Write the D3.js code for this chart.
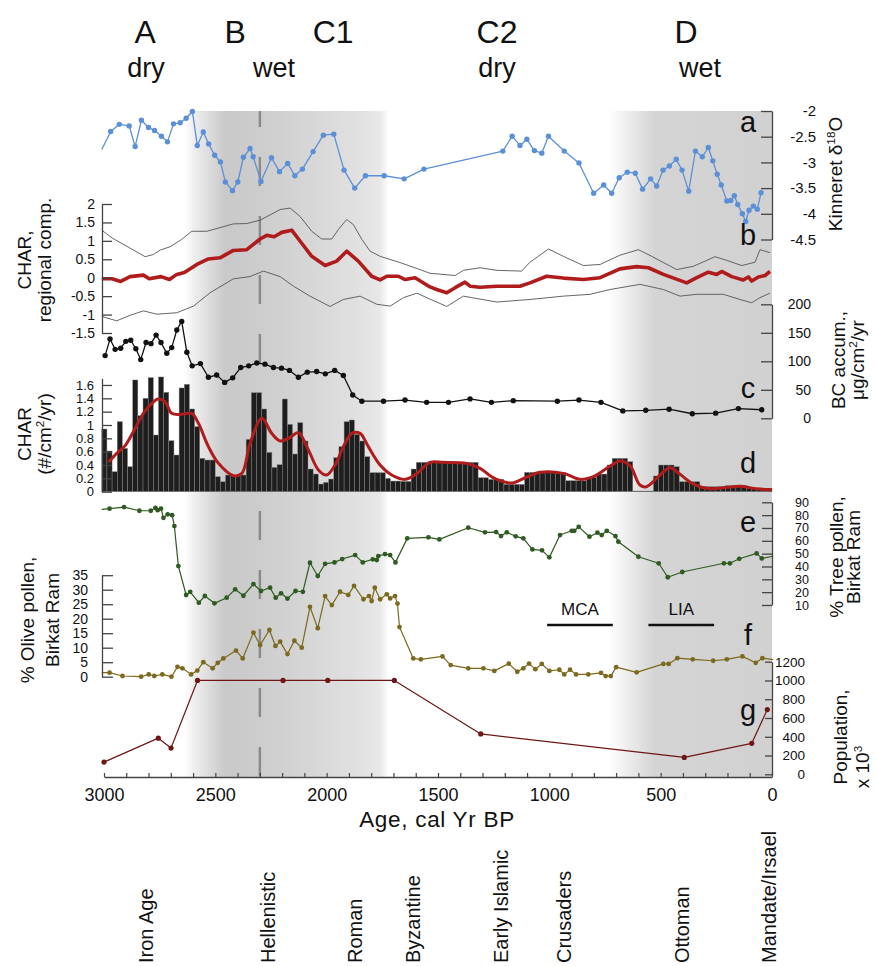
<!DOCTYPE html>
<html><head><meta charset="utf-8">
<script src="https://cdn.jsdelivr.net/npm/d3@7"></script>
<style>
body{margin:0;background:#fff}
svg text{font-family:"Liberation Sans",Arial,Helvetica,sans-serif;fill:#111}
</style></head>
<body><svg id="c" width="876" height="966"></svg>
<script>
// ---------------- DATA ----------------
// (a) Kinneret d18O
const kinYears = [3010,2970,2931,2887,2860,2832,2800,2773,2742,2715,2688,2658,2631,2603,2581,2554,2530,2503,2477,2455,2423,2399,2374,2344,2330,2295,2248,2212,2175,2143,2109,2061,2015,1968,1922,1874,1826,1742,1652,1563,1209,1167,1132,1101,1067,1034,1004,933,867,801,756,720,686,650,614,581,545,518,489,461,430,404,374,344,313,286,266,246,228,203,185,169,154,133,118,103,84,66,49];
const kinValues = [-2.75,-2.40,-2.26,-2.29,-2.69,-2.18,-2.32,-2.38,-2.49,-2.60,-2.25,-2.23,-2.14,-2.01,-2.67,-2.41,-2.64,-2.86,-2.99,-3.38,-3.55,-3.38,-2.90,-2.73,-2.89,-3.37,-2.91,-3.18,-3.02,-3.26,-3.13,-2.79,-2.47,-2.45,-3.15,-3.50,-3.26,-3.26,-3.32,-3.13,-2.78,-2.49,-2.67,-2.55,-2.77,-2.82,-2.49,-2.78,-3.01,-3.60,-3.44,-3.60,-3.30,-3.19,-3.21,-3.52,-3.32,-3.46,-3.15,-3.07,-2.94,-3.15,-3.56,-2.78,-2.89,-2.71,-2.97,-3.23,-3.44,-3.75,-3.74,-3.65,-3.82,-4.00,-4.15,-3.93,-3.85,-3.91,-3.59];
const kinTicks = [-2,-2.5,-3,-3.5,-4,-4.5];

// (b) CHAR regional composite, with upper / lower bounds
const regYears = [3010,2964,2925,2883,2823,2797,2744,2706,2673,2639,2583,2531,2479,2419,2359,2299,2269,2236,2202,2157,2119,2067,2007,1955,1910,1858,1798,1760,1730,1678,1648,1603,1536,1506,1461,1423,1379,1356,1311,1236,1132,1087,1012,937,847,772,683,608,555,488,383,338,286,248,226,181,129,106,91,61,31,9];
const regValues = [-0.03,-0.03,-0.10,0.03,0.07,-0.03,0.03,-0.05,0.09,0.14,0.36,0.51,0.54,0.74,0.76,1.05,1.15,1.11,1.23,1.29,0.99,0.58,0.33,0.45,0.72,0.45,0.04,-0.06,0.04,0.04,-0.05,0.0,-0.25,-0.32,-0.41,-0.27,-0.12,-0.23,-0.26,-0.23,-0.23,-0.14,0.04,-0.01,-0.05,0.0,0.24,0.30,0.27,0.09,-0.14,0.0,0.15,0.09,0.17,0.03,-0.06,0.02,-0.09,0.02,0.06,0.17];
const regUpYears = [3010,2964,2897,2815,2778,2748,2703,2651,2606,2538,2419,2359,2299,2209,2164,2119,2067,2022,1977,1947,1910,1880,1842,1805,1760,1670,1581,1536,1423,1386,1311,1236,1124,1087,1004,937,847,772,683,600,540,428,353,256,203,136,76,54,9];
const regUpValues = [1.29,1.08,0.85,0.57,0.63,0.75,0.84,1.04,1.26,1.26,1.46,1.47,1.56,1.85,1.89,1.66,1.26,1.05,1.05,1.31,1.58,1.44,1.04,0.72,0.58,0.41,0.22,0.12,0.06,0.20,0.27,0.20,0.18,0.42,0.78,0.58,0.33,0.36,0.61,0.76,0.58,0.22,0.31,0.57,0.47,0.33,0.42,0.76,0.68];
const regLoYears = [3010,2943,2883,2823,2763,2673,2598,2524,2419,2344,2284,2209,2149,2075,1985,1925,1850,1775,1715,1655,1595,1536,1461,1386,1236,1087,937,817,727,593,488,413,338,219,144,91,54,9];
const regLoValues = [-1.05,-1.17,-1.02,-0.90,-0.99,-0.95,-0.77,-0.41,-0.03,0.03,0.18,0.03,-0.23,-0.50,-0.78,-0.59,-0.50,-0.72,-0.77,-0.54,-0.42,-0.58,-0.78,-0.50,-0.66,-0.59,-0.50,-0.45,-0.32,-0.18,-0.32,-0.50,-0.45,-0.45,-0.59,-0.68,-0.54,-0.42];
const regTicks = [2,1.5,1,0.5,0,-0.5,-1,-1.5];

// (c) BC accumulation
const bcYears = [2995,2973,2950,2925,2902,2880,2857,2835,2811,2789,2766,2744,2718,2696,2673,2651,2628,2604,2567,2531,2494,2458,2422,2386,2350,2314,2277,2239,2203,2167,2127,2087,2045,2006,1964,1925,1883,1842,1745,1648,1551,1453,1356,1260,1162,964,867,768,670,567,462,358,253,151,46];
const bcValues = [110,139,121,123,135,137,122,103,133,131,146,133,114,124,155,170,116,92,96,72,76,63,71,89,92,97,95,89,88,84,72,81,82,78,84,75,41,30,30,32,28,28,34,28,31,30,32,28,13,14,16,8,9,17,15];
const bcTicks = [200,150,100,50,0];

// (d) CHAR bars (oldest bin first) and smoothed curve
const charBinOldest = 3010;
const charBinCount = 130;
const charBars = [0.94,0.61,0.30,1.05,0.65,0.375,1.675,1.14,1.40,1.71,0.85,1.72,1.49,0.765,0.55,1.555,1.61,1.24,0.975,0.50,
 0.475,0.475,0.225,0.15,0.25,0.25,0.245,0.25,0.785,1.485,1.485,1.24,0.59,0.365,0.405,1.39,1.01,0.565,1.035,0.76,
 0.34,0.265,0.115,0.14,0.19,0.51,0.675,1.05,1.075,0.86,0.76,0.525,0.285,0.285,0.285,0.2,0.16,0.16,0.155,0.155,
 0.34,0.44,0.44,0.44,0.44,0.44,0.44,0.44,0.44,0.44,0.44,0.44,0.44,0.21,0.21,0.185,0.185,0.185,0.11,0.11,
 0.11,0.11,0.29,0.29,0.29,0.29,0.29,0.29,0.29,0.29,0.165,0.165,0.165,0.165,0.215,0.215,0.265,0.265,0.40,0.50,
 0.50,0.50,0.45,0.01,0.01,0.01,0.01,0.235,0.40,0.40,0.40,0.375,0.15,0.15,0.15,0.15,0.075,0.075,0.075,0.075,
 0.075,0.09,0.09,0.09,0.09,0.05,0.05,0.05,0.05,0.05];
const charSmYears = [2980,2943,2905,2868,2823,2785,2756,2726,2696,2651,2606,2576,2531,2486,2419,2381,2344,2291,2247,2209,2164,2127,2082,2037,2000,1962,1925,1887,1850,1813,1760,1708,1648,1595,1536,1476,1371,1311,1266,1236,1169,1101,1042,937,862,802,720,683,638,593,563,503,458,413,353,278,203,144,69,1];
const charSmValues = [0.44,0.575,0.69,0.90,1.175,1.325,1.39,1.35,1.175,1.16,1.175,1.025,0.675,0.425,0.24,0.275,0.725,1.10,0.875,0.76,0.815,0.885,0.625,0.325,0.25,0.40,0.675,0.875,0.875,0.675,0.40,0.25,0.185,0.27,0.44,0.44,0.425,0.35,0.24,0.185,0.13,0.22,0.29,0.275,0.185,0.225,0.40,0.46,0.39,0.10,0.075,0.25,0.36,0.26,0.115,0.045,0.065,0.08,0.045,0.03];
const charTicks = [0,0.2,0.4,0.6,0.8,1,1.2,1.4,1.6];

// (e) Tree pollen
const treeYears = [3010,2975,2910,2841,2790,2769,2759,2744,2733,2714,2694,2684,2666,2631,2613,2574,2547,2504,2449,2411,2374,2329,2295,2254,2229,2205,2176,2140,2107,2075,2040,2007,1965,1930,1872,1838,1793,1775,1768,1738,1715,1691,1638,1543,1494,1364,1289,1239,1217,1191,1151,1117,1076,1033,1000,952,899,888,868,820,784,765,742,703,690,600,509,468,403,216,189,147,69,46,-5];
const treeValues = [84.5,85,86.3,83.4,83.4,85.7,83.9,85,77.9,80.6,80,71.5,40.3,17.8,20.3,11.8,17,11.3,15.7,22.2,17.2,26.3,20.9,23.5,15.7,19.1,15,20.9,20.3,42.9,32.6,42.1,43.2,45.8,48.9,43.2,45.6,45,48.1,49.7,48.9,43.2,61.9,62.7,61.1,70.2,66.6,66.8,63.7,66.6,63.5,61.9,53.3,52.6,47.1,64.5,67.8,67.8,70.9,63.2,66.3,64.5,67.8,63.7,59.3,47.6,42.5,31.6,35.7,42.5,42.5,46,50.2,46.3,48];
const treeTicks = [90,80,70,60,50,40,30,20,10];

// (f) Olive pollen
const oliveYears = [3010,2975,2917,2833,2799,2774,2738,2697,2670,2648,2609,2581,2554,2512,2489,2464,2407,2377,2329,2299,2257,2230,2209,2176,2145,2112,2075,2040,2007,1977,1940,1903,1877,1835,1810,1798,1784,1760,1730,1715,1693,1682,1673,1611,1577,1480,1443,1364,1296,1247,1182,1144,1117,1091,1063,1034,1000,955,933,907,880,825,768,747,724,700,608,488,464,425,356,264,203,133,73,43,-5];
const oliveValues = [1.4,1.4,0.24,0,0.8,0.24,0.8,0,3.4,2.9,0.8,2.1,5.0,2.9,4.8,6.3,9.0,6.3,15.2,10.9,16.1,10.6,12.1,7.8,12.4,10.0,24.1,16.7,27.8,24.7,29.3,28.2,31.3,26.7,27.8,26.1,30.7,26.7,28.4,27.0,27.8,25.2,17.1,6.3,6.0,7.0,4.0,2.9,2.9,2.0,4.5,1.7,2.9,4.5,2.6,4.4,2.0,2.4,0.8,2.4,0.8,0.8,1.3,0.2,0.2,3.3,1.5,4.4,4.4,6.4,6.0,5.5,6.0,7.0,4.8,6.4,5.9];
const oliveTicks = [35,30,25,20,15,10,5,0];

// (g) Population (x 1000)
const popYears = [3000,2756,2699,2580,2196,1995,1696,1308,394,91,21];
const popValues = [130,385,280,1000,1000,1000,1000,430,180,330,690];
const popTicks = [1200,1000,800,600,400,200,0];

// Age axis
const ageTicks = [3000,2900,2800,2700,2600,2500,2400,2300,2200,2100,2000,1900,1800,1700,1600,1500,1400,1300,1200,1100,1000,900,800,700,600,500,400,300,200,100,0];
const ageLabels = [3000,2500,2000,1500,1000,500,0];

// Annotations
const climateLetters = ["A","B","C1","C2","D"];
const climateLetterYears = [2815,2411,1971,1235,386];
const climateWords = ["dry","wet","dry","wet"];
const climateWordYears = [2811,2236,1235,323];
const wetBandStart = [2640,732];
const wetBandEnd = [1720,0];
const markerYear = 2300;
const anomalyNames = ["MCA","LIA"];
const anomalyStart = [1010,555];
const anomalyEnd = [715,260];
const historyNames = ["Iron Age","Hellenistic","Roman","Byzantine","Early Islamic","Crusaders","Ottoman","Mandate/Irsael"];
const historyYears = [2811,2262,1872,1612,1217,934,404,13];

// ---------------- DRAW ----------------
const svg = d3.select("#c");
const x = d3.scaleLinear().domain([3000,0]).range([104,772]);
const XL = 102, XR = 772, TOP = 111, BOT = 777;

const defs = svg.append("defs");
const g1 = defs.append("linearGradient").attr("id","band1");
[[0,"#ffffff"],[0.05,"#eeeeee"],[0.2,"#c9c9c9"],[0.38,"#cdcdcd"],[0.6,"#d6d6d6"],[0.85,"#e1e1e1"],[0.955,"#e8e8e8"],[1,"#ffffff"]]
  .forEach(s=>g1.append("stop").attr("offset",s[0]).attr("stop-color",s[1]));
const g2 = defs.append("linearGradient").attr("id","band2");
[[0,"#ffffff"],[0.28,"#d4d4d4"],[1,"#d1d1d1"]]
  .forEach(s=>g2.append("stop").attr("offset",s[0]).attr("stop-color",s[1]));

svg.selectAll("rect.band").data(d3.range(wetBandStart.length)).enter().append("rect")
  .attr("x",i=>x(wetBandStart[i])).attr("width",i=>x(wetBandEnd[i])-x(wetBandStart[i]))
  .attr("y",TOP).attr("height",BOT-TOP)
  .attr("fill",(d,i)=>i===0?"url(#band1)":"url(#band2)");

// dashed marker
svg.append("line").attr("x1",x(markerYear)).attr("x2",x(markerYear))
  .attr("y1",98).attr("y2",BOT).attr("stroke","#8a8a8a").attr("stroke-width",2.4)
  .attr("stroke-dasharray","29,30");
svg.append("rect").attr("x",x(markerYear)-3).attr("y",90).attr("width",6).attr("height",TOP-90).attr("fill","#fff");

function zip(a,b){return a.map((d,i)=>[d,b[i]]);}
function series(years, vals, y, color, w, r, curve){
  const data = zip(years, vals);
  const line = d3.line().x(d=>x(d[0])).y(d=>y(d[1]));
  if(curve) line.curve(curve);
  svg.append("path").datum(data).attr("d",line).attr("fill","none")
    .attr("stroke",color).attr("stroke-width",w).attr("stroke-linejoin","round");
  if(r>0){
    svg.append("g").selectAll("circle").data(data.filter(d=>d[0]>0&&d[0]<=3000)).enter()
      .append("circle").attr("cx",d=>x(d[0])).attr("cy",d=>y(d[1])).attr("r",r).attr("fill",color);
  }
}
function fmt(d){return String(d);}
function rightAxis(y, ticks, labelX, fs, tickLen){
  const g = svg.append("g").attr("transform",`translate(${XR},0)`)
    .call(d3.axisLeft(y).tickValues(ticks).tickFormat(fmt).tickSize(tickLen).tickSizeOuter(0));
  g.select(".domain").attr("stroke","#444").attr("stroke-width",1.3);
  g.selectAll(".tick line").attr("stroke","#444").attr("stroke-width",1.3);
  g.selectAll(".tick text").attr("x",labelX-XR).attr("text-anchor","end")
    .attr("font-size",fs).attr("fill","#111").style("font-family",'"Liberation Sans",Arial,sans-serif');
}
function leftAxis(y, ticks, labelX, fs, tickLen){
  const g = svg.append("g").attr("transform",`translate(${XL},0)`)
    .call(d3.axisRight(y).tickValues(ticks).tickFormat(fmt).tickSize(tickLen).tickSizeOuter(0));
  g.select(".domain").attr("stroke","#444").attr("stroke-width",1.3);
  g.selectAll(".tick line").attr("stroke","#444").attr("stroke-width",1.3);
  g.selectAll(".tick text").attr("x",labelX-XL).attr("text-anchor","end")
    .attr("font-size",fs).attr("fill","#111").style("font-family",'"Liberation Sans",Arial,sans-serif');
}
function vtext(str, tx, ty, fs, anchor){
  const t = svg.append("text").attr("transform",`translate(${tx},${ty}) rotate(-90)`)
    .attr("text-anchor",anchor||"middle").attr("font-size",fs);
  const parts = str.split(/(\^\{[^}]*\})/);
  let shifted=false;
  parts.forEach(p=>{
    if(!p) return;
    if(p.startsWith("^{")){
      t.append("tspan").attr("dy",-fs*0.38).attr("font-size",fs*0.62).text(p.slice(2,-1));
      shifted=true;
    } else {
      const ts=t.append("tspan").text(p);
      if(shifted){ts.attr("dy",fs*0.38);shifted=false;}
    }
  });
  return t;
}

// scales
const yA = d3.scaleLinear().domain([-4.5,-2]).range([239.5,111]);
const yB = d3.scaleLinear().domain([-1.5,2]).range([333,204]);
const yC = d3.scaleLinear().domain([0,200]).range([418.3,304.3]);
const yD = d3.scaleLinear().domain([0,1.7]).range([491.7,378.3]);
const yE = d3.scaleLinear().domain([10,90]).range([605,502.3]);
const yF = d3.scaleLinear().domain([0,35]).range([676.7,575.2]);
const yG = d3.scaleLinear().domain([0,1200]).range([774.3,661.7]);

// (d) bars
const binW = charBinOldest/charBinCount;
svg.append("g").selectAll("rect").data(charBars).enter().append("rect")
  .attr("x",(d,i)=>x(charBinOldest - i*binW))
  .attr("width",(d,i)=>x(charBinOldest-(i+1)*binW)-x(charBinOldest-i*binW))
  .attr("y",d=>yD(d)).attr("height",d=>yD(0)-yD(d))
  .attr("fill","#1e1e1e").attr("stroke","#8a8a8a").attr("stroke-width",0.45);

// series
series(kinYears,kinValues,yA,"#5b90d8",1.3,2.7);
series(regUpYears,regUpValues,yB,"#555",0.9,0);
series(regLoYears,regLoValues,yB,"#555",0.9,0);
series(regYears,regValues,yB,"#b01c1c",3.6,0);
series(bcYears,bcValues,yC,"#111",1.3,2.7);
series(charSmYears,charSmValues,yD,"#b01c1c",3,0,d3.curveCatmullRom.alpha(0.5));
series(treeYears,treeValues,yE,"#2f5a22",1.2,2.4);
series(oliveYears,oliveValues,yF,"#7b6a1e",1.2,2.4);
series(popYears,popValues,yG,"#6e1616",1.2,2.6);

// axes
rightAxis(yA,kinTicks,816,15,11);
leftAxis(yB,regTicks,95,14,10);
rightAxis(yC,bcTicks,811,14,11);
leftAxis(yD,charTicks,94,13,10);
rightAxis(yE,treeTicks,809,12.5,10);
leftAxis(yF,oliveTicks,88,14,11);
rightAxis(yG,popTicks,805,13.5,7);

// x axis
const gx = svg.append("g").attr("transform",`translate(0,${BOT})`)
  .call(d3.axisBottom(x).tickValues(ageTicks).tickFormat(d=>ageLabels.includes(d)?String(d):"").tickSize(-4).tickSizeOuter(0));
gx.select(".domain").attr("stroke","#444").attr("stroke-width",1.6);
gx.selectAll(".tick line").attr("stroke","#444").attr("stroke-width",1.2);
gx.selectAll(".tick text").attr("y",11).attr("font-size",18).attr("fill","#111")
  .style("font-family",'"Liberation Sans",Arial,sans-serif');
svg.append("text").attr("x",437).attr("y",827).attr("text-anchor","middle").attr("font-size",22.5)
  .attr("letter-spacing",0.7).text("Age, cal Yr BP");

// climate letters
svg.selectAll("text.cl").data(climateLetters).enter().append("text")
  .attr("x",(d,i)=>x(climateLetterYears[i])).attr("y",43).attr("text-anchor","middle")
  .attr("font-size",32).text(d=>d);
svg.selectAll("text.cw").data(climateWords).enter().append("text")
  .attr("x",(d,i)=>x(climateWordYears[i])).attr("y",77).attr("text-anchor","middle")
  .attr("font-size",27).text(d=>d);

// panel letters
[["a",132],["b",245],["c",398],["d",473],["e",532],["f",645],["g",720]].forEach(p=>{
  svg.append("text").attr("x",748).attr("y",p[1]).attr("text-anchor","middle").attr("font-size",29).text(p[0]);
});

// MCA / LIA
anomalyNames.forEach((n,i)=>{
  const a=x(anomalyStart[i]), b=x(anomalyEnd[i]);
  svg.append("line").attr("x1",a).attr("x2",b).attr("y1",625).attr("y2",625).attr("stroke","#111").attr("stroke-width",2.4);
  svg.append("text").attr("x",(a+b)/2).attr("y",615).attr("text-anchor","middle").attr("font-size",17).text(n);
});

// axis titles
vtext("Kinneret δ^{18}O",842,174,19);
vtext("CHAR,",31,260,19);
vtext("regional comp.",51,260,19);
vtext("BC accum.,",845,360,19);
vtext("μg/cm^{2}/yr",864,360,19);
vtext("CHAR",31,434,19);
vtext("(#/cm^{2}/yr)",51,434,19);
vtext("% Tree pollen,",843,557,19);
vtext("Birkat Ram",860,557,19);
vtext("% Olive pollen,",34,620,19);
vtext("Birkat Ram",59,620,19);
vtext("Population,",847,737,19);
vtext("x 10^{3}",869,767,19);

// history periods
historyNames.forEach((n,i)=>{
  vtext(n, x(historyYears[i])+7, 963, 20, "start");
});
</script></body></html>
